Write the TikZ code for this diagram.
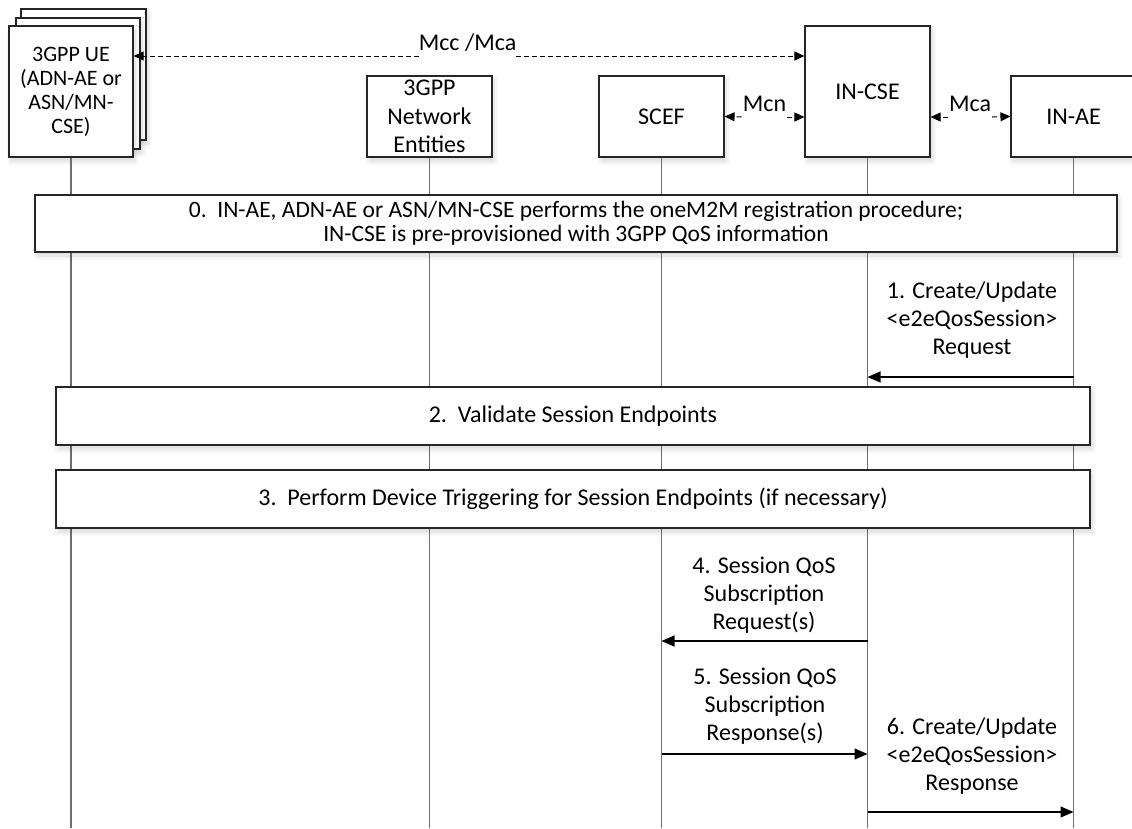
\documentclass[tikz,border=0pt]{standalone}
\usepackage{fontspec}
\setmainfont{Carlito}
\usetikzlibrary{arrows.meta,shadows.blur}
\definecolor{edge}{HTML}{262626}
\definecolor{life}{HTML}{6E6E6E}
\newcommand{\txt}{\fontsize{24}{28}\selectfont}
\tikzset{
  box/.style={draw=edge, line width=1.1pt, fill=white, inner sep=0pt, align=center, font=\txt,
    blur shadow={shadow xshift=2pt, shadow yshift=-4pt, shadow blur steps=6, shadow opacity=16, shadow blur radius=5pt}},
  lifeline/.style={draw=life, line width=1.3pt},
  msg/.style={draw=black, line width=1.1pt, -{Triangle[length=13pt,width=11pt]}},
  dsh/.style={draw=black, line width=1pt, dash pattern=on 5pt off 3pt, -{Triangle[length=10pt,width=9pt]}},
  lbl/.style={inner sep=0pt, align=center, font=\txt}
}
\begin{document}
\begin{tikzpicture}[x=1pt,y=-1pt]
\useasboundingbox (0,0) rectangle (1132,828);
% entities
\node[box, minimum width=125pt, minimum height=131pt] (ue3) at (83.5,74.5) {};
\node[box, minimum width=124pt, minimum height=131pt] (ue2) at (78,83.5) {};
\node[box, minimum width=124pt, minimum height=131pt, font=\fontsize{22}{24}\selectfont] (ue) at (71,91.5) {3GPP UE\\(ADN-AE or\\ASN/MN-\\CSE)};
\node[box, minimum width=125pt, minimum height=81pt, font=\fontsize{24}{28.5}\selectfont] (net) at (429.5,116.5) {3GPP\\Network\\Entities};
\node[box, minimum width=125pt, minimum height=81pt] (scef) at (661.5,116.5) {SCEF};
\node[box, minimum width=125pt, minimum height=131pt] (incse) at (867.5,91.5) {IN-CSE};
\node[box, minimum width=125pt, minimum height=81pt] (inae) at (1073.5,116.5) {IN-AE};
% lifelines
\draw[lifeline] (ue.south) -- (ue.south |- 0,828);
\draw[lifeline] (net.south) -- (net.south |- 0,828);
\draw[lifeline] (scef.south) -- (scef.south |- 0,828);
\draw[lifeline] (incse.south) -- (incse.south |- 0,828);
\draw[lifeline] (inae.south) -- (inae.south |- 0,828);
% reference points
\node[lbl] (mcc) at (467.5,43) {Mcc /Mca};
\draw[dsh] (mcc.west |- 0,56) -- (ue.east |- 0,56);
\draw[dsh] (mcc.east |- 0,56) -- (incse.west |- 0,56);
\node[lbl, inner xsep=1pt] (mcn) at (764.5,104) {Mcn};
\draw[dsh] (mcn.west |- 0,117) -- (scef.east);
\draw[dsh] (mcn.east |- 0,117) -- (incse.west |- 0,117);
\node[lbl, inner xsep=1pt] (mca) at (970,104) {Mca};
\draw[dsh] (mca.west |- 0,117) -- (incse.east |- 0,117);
\draw[dsh] (mca.east |- 0,117) -- (inae.west);
% phase boxes
\node[box, minimum width=1082pt, minimum height=57pt, font=\fontsize{23.5}{24}\selectfont] (p0) at (576,223.5)
  {0.\ \ IN-AE, ADN-AE or ASN/MN-CSE performs the oneM2M registration procedure;\\IN-CSE is pre-provisioned with 3GPP QoS information};
\node[box, minimum width=1034pt, minimum height=58pt] (p2) at (573,416) {2.\ \ Validate Session Endpoints};
\node[box, minimum width=1034pt, minimum height=58pt] (p3) at (573,499) {3.\ \ Perform Device Triggering for Session Endpoints (if necessary)};
% messages
\coordinate (m1a) at (inae.south |- 0,377);
\coordinate (m1b) at (incse.south |- 0,377);
\draw[msg] (m1a) -- (m1b);
\node[lbl] (l1) at (972,320) {1. Create/Update\\<e2eQosSession>\\Request};
\coordinate (m4a) at (incse.south |- 0,641);
\coordinate (m4b) at (scef.south |- 0,641);
\draw[msg] (m4a) -- (m4b);
\node[lbl] (l4) at (764,595) {4. Session QoS\\Subscription\\Request(s)};
\coordinate (m5a) at (scef.south |- 0,754);
\coordinate (m5b) at (incse.south |- 0,754);
\draw[msg] (m5a) -- (m5b);
\node[lbl] (l5) at (765,706) {5. Session QoS\\Subscription\\Response(s)};
\coordinate (m6a) at (incse.south |- 0,812);
\coordinate (m6b) at (inae.south |- 0,812);
\draw[msg] (m6a) -- (m6b);
\node[lbl] (l6) at (972,756) {6. Create/Update\\<e2eQosSession>\\Response};
\end{tikzpicture}
\end{document}
